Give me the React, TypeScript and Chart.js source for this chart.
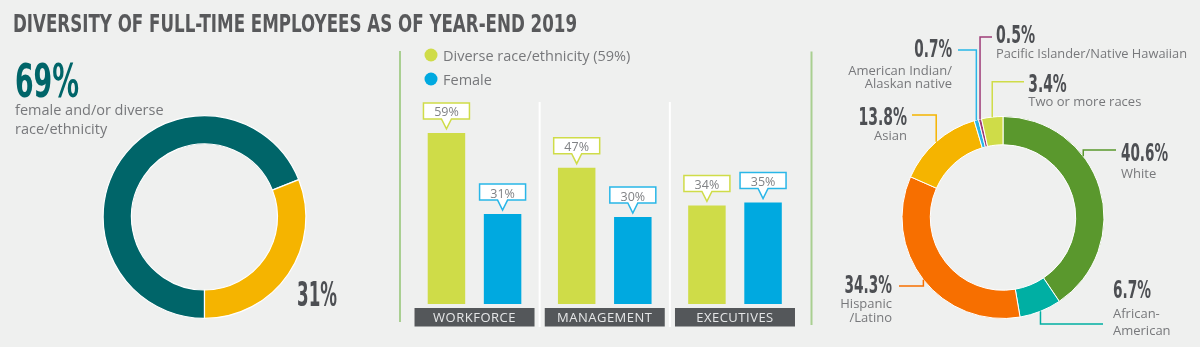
import React, { useEffect, useRef } from "react";
import { Chart, registerables } from "chart.js";

Chart.register(...registerables);

// ---------------- data ----------------
const titleText = "DIVERSITY OF FULL-TIME EMPLOYEES AS OF YEAR-END 2019";

const overallLabels = ["Female and/or diverse race/ethnicity", "Other"];
const overallValues = [69, 31];
const overallCaption = ["female and/or diverse", "race/ethnicity"];

const barCategories = ["WORKFORCE", "MANAGEMENT", "EXECUTIVES"];
const seriesNames = ["Diverse race/ethnicity (59%)", "Female"];
const diverseValues = [59, 47, 34];
const femaleValues = [31, 30, 35];

const raceLabels = [
  "White",
  "African-American",
  "Hispanic/Latino",
  "Asian",
  "American Indian/Alaskan native",
  "Pacific Islander/Native Hawaiian",
  "Two or more races",
];
const raceTextLines = [
  ["White"],
  ["African-", "American"],
  ["Hispanic", "/Latino"],
  ["Asian"],
  ["American Indian/", "Alaskan native"],
  ["Pacific Islander/Native Hawaiian"],
  ["Two or more races"],
];
const raceValues = [40.6, 6.7, 34.3, 13.8, 0.7, 0.5, 3.4];

// ---------------- styles / layout ----------------
const W = 1200;
const H = 347;
const BG = "#eff0ef";
const TEAL = "#006569";
const YELLOW = "#f5b400";
const BAR_GREEN = "#cfdc48";
const BAR_BLUE = "#00a9e0";
const CALLOUT_BLUE = "#29b6e8";
const DARK = "#4d4f53";
const GREY_TEXT = "#77787b";
const RULE_GREEN = "#a9cf91";
const raceColors = ["#5a982d", "#00afa3", "#f76f00", "#f5b400", "#29b6e8", "#9e3d78", "#cfdc48"];

const COND = '"Liberation Sans Narrow", "DejaVu Sans Condensed", "Roboto", sans-serif';
const SANS = '"Open Sans", "Noto Sans", sans-serif';

type RaceLayout = {
  frac: number;
  elbowY: number;
  endX: number;
  numX: number;
  numY: number;
  numW: number;
  align: "left" | "right";
  textY: number[];
};
const raceLayout: RaceLayout[] = [
  { frac: 0.36, elbowY: 150, endX: 1116, numX: 1121, numY: 161, numW: 47, align: "left", textY: [178] },
  { frac: 0.5, elbowY: 324, endX: 1103, numX: 1113, numY: 298, numW: 38, align: "left", textY: [318, 335] },
  { frac: 0.5, elbowY: 286, endX: 899, numX: 892, numY: 292.5, numW: 47.5, align: "right", textY: [308, 322] },
  { frac: 0.5, elbowY: 115, endX: 912, numX: 907, numY: 125, numW: 48.5, align: "right", textY: [139.5] },
  { frac: 0.5, elbowY: 50, endX: 958, numX: 952, numY: 57.3, numW: 37.7, align: "right", textY: [74.5, 88] },
  { frac: 0.5, elbowY: 37, endX: 992, numX: 996, numY: 43.3, numW: 39, align: "left", textY: [57.5] },
  { frac: 0.5, elbowY: 81.7, endX: 1024, numX: 1028.3, numY: 91.7, numW: 38.4, align: "left", textY: [106] },
];

function fitText(
  ctx: CanvasRenderingContext2D,
  text: string,
  x: number,
  y: number,
  width: number,
  align: "left" | "right" = "left"
) {
  const w = ctx.measureText(text).width || 1;
  const s = width / w;
  ctx.save();
  ctx.textAlign = "left";
  ctx.textBaseline = "alphabetic";
  const left = align === "right" ? x - width : x;
  ctx.translate(left, y);
  ctx.scale(s, 1);
  ctx.fillText(text, 0, 0);
  ctx.restore();
}

const pct = (v: number) => (Number.isInteger(v) ? `${v}%` : `${v.toFixed(1)}%`);

// ---------------- plugins ----------------
const backgroundPlugin = {
  id: "pageBackground",
  beforeDraw(chart: any) {
    const ctx: CanvasRenderingContext2D = chart.ctx;
    ctx.save();
    ctx.fillStyle = BG;
    ctx.fillRect(0, 0, W, H);

    // title
    ctx.fillStyle = "#58595b";
    ctx.font = `bold 25px ${COND}`;
    fitText(ctx, titleText, 13, 32, 564);

    // left big number + caption
    ctx.fillStyle = TEAL;
    ctx.font = `bold 47px ${COND}`;
    fitText(ctx, pct(overallValues[0]), 15, 97, 64);
    ctx.fillStyle = GREY_TEXT;
    ctx.font = `14.5px ${SANS}`;
    ctx.textAlign = "left";
    ctx.textBaseline = "alphabetic";
    ctx.fillText(overallCaption[0], 15, 115);
    ctx.fillText(overallCaption[1], 15, 134);
    ctx.fillStyle = DARK;
    ctx.font = `bold 33px ${COND}`;
    fitText(ctx, pct(overallValues[1]), 297, 306, 40);

    // green dividers
    ctx.strokeStyle = RULE_GREEN;
    ctx.lineWidth = 2;
    ctx.beginPath();
    ctx.moveTo(400, 51);
    ctx.lineTo(400, 322);
    ctx.moveTo(811.5, 51.5);
    ctx.lineTo(811.5, 325);
    ctx.stroke();

    // white separators between categories
    const xs = chart.scales.x;
    ctx.strokeStyle = "#ffffff";
    ctx.lineWidth = 2;
    for (let i = 0; i < barCategories.length - 1; i++) {
      const bx = (xs.getPixelForValue(i) + xs.getPixelForValue(i + 1)) / 2;
      ctx.beginPath();
      ctx.moveTo(bx, 102);
      ctx.lineTo(bx, 327);
      ctx.stroke();
    }

    // legend
    const ds = chart.data.datasets;
    const legendY = [55, 79];
    ds.forEach((d: any, i: number) => {
      ctx.fillStyle = d.backgroundColor;
      ctx.beginPath();
      ctx.arc(431, legendY[i], 6.5, 0, Math.PI * 2);
      ctx.fill();
      ctx.fillStyle = GREY_TEXT;
      ctx.font = `14.5px ${SANS}`;
      ctx.textAlign = "left";
      ctx.textBaseline = "middle";
      ctx.fillText(seriesNames[i], 443, legendY[i] + 1.5);
    });
    ctx.restore();
  },
  afterDatasetsDraw(chart: any) {
    const ctx: CanvasRenderingContext2D = chart.ctx;
    ctx.save();
    const borderColors = [BAR_GREEN, CALLOUT_BLUE];
    chart.data.datasets.forEach((d: any, di: number) => {
      const meta = chart.getDatasetMeta(di);
      meta.data.forEach((bar: any, i: number) => {
        const x = bar.x;
        const top = bar.y;
        const bw = 46;
        const bh = 16;
        const b = top - 14;
        const t = b - bh;
        const l = x - bw / 2;
        const r = x + bw / 2;
        const tip = top - 4;
        ctx.beginPath();
        ctx.moveTo(l, t);
        ctx.lineTo(r, t);
        ctx.lineTo(r, b);
        ctx.lineTo(x + 5, b);
        ctx.lineTo(x, tip);
        ctx.lineTo(x - 5, b);
        ctx.lineTo(l, b);
        ctx.closePath();
        ctx.fillStyle = "#ffffff";
        ctx.fill();
        ctx.strokeStyle = borderColors[di];
        ctx.lineWidth = 1.5;
        ctx.stroke();
        ctx.fillStyle = "#808285";
        ctx.font = `12.5px ${SANS}`;
        ctx.textAlign = "center";
        ctx.textBaseline = "alphabetic";
        ctx.fillText(pct(d.data[i]), x, b - 2.5);
      });
    });

    // category boxes
    const xs = chart.scales.x;
    barCategories.forEach((c, i) => {
      const cx = xs.getPixelForValue(i);
      ctx.fillStyle = "#54575a";
      ctx.fillRect(cx - 60, 308, 120, 18.5);
      ctx.fillStyle = "#e6e7e8";
      ctx.font = `13px ${SANS}`;
      (ctx as any).letterSpacing = "0.5px";
      ctx.textAlign = "center";
      ctx.textBaseline = "alphabetic";
      ctx.fillText(c, cx, 322.3, 110);
      (ctx as any).letterSpacing = "0px";
    });
    ctx.restore();
  },
};

const raceLabelPlugin = {
  id: "raceLabels",
  afterDraw(chart: any) {
    const ctx: CanvasRenderingContext2D = chart.ctx;
    const meta = chart.getDatasetMeta(0);
    ctx.save();
    meta.data.forEach((arc: any, i: number) => {
      const L = raceLayout[i];
      const a = arc.startAngle + L.frac * (arc.endAngle - arc.startAngle);
      const R = arc.outerRadius;
      const ax = arc.x + R * Math.cos(a);
      const ay = arc.y + R * Math.sin(a);
      ctx.strokeStyle = raceColors[i];
      ctx.lineWidth = 1.5;
      ctx.beginPath();
      ctx.moveTo(ax, ay);
      ctx.lineTo(ax, L.elbowY);
      ctx.lineTo(L.endX, L.elbowY);
      ctx.stroke();

      ctx.fillStyle = DARK;
      ctx.font = `bold 24px ${COND}`;
      fitText(ctx, pct(raceValues[i]), L.numX, L.numY, L.numW, L.align);

      ctx.fillStyle = GREY_TEXT;
      ctx.font = `13px ${SANS}`;
      ctx.textAlign = L.align;
      ctx.textBaseline = "alphabetic";
      raceTextLines[i].forEach((line, k) => {
        ctx.fillText(line, L.numX, L.textY[k], i === 5 ? 191 : undefined as any);
      });
    });
    ctx.restore();
  },
};

// ---------------- component ----------------
export default function App() {
  const barRef = useRef<HTMLCanvasElement>(null);
  const leftRef = useRef<HTMLCanvasElement>(null);
  const rightRef = useRef<HTMLCanvasElement>(null);

  useEffect(() => {
    const charts: Chart[] = [];
    if (barRef.current) {
      charts.push(
        new Chart(barRef.current, {
          type: "bar",
          data: {
            labels: barCategories,
            datasets: [
              {
                label: seriesNames[0],
                data: diverseValues,
                backgroundColor: BAR_GREEN,
                categoryPercentage: 0.862,
                barPercentage: 0.668,
              },
              {
                label: seriesNames[1],
                data: femaleValues,
                backgroundColor: BAR_BLUE,
                categoryPercentage: 0.862,
                barPercentage: 0.668,
              },
            ],
          },
          options: {
            responsive: false,
            animation: false,
            devicePixelRatio: 1,
            events: [],
            layout: { padding: { left: 409.4, right: 399.9, top: 14, bottom: 43 } },
            plugins: { legend: { display: false }, tooltip: { enabled: false } },
            scales: {
              x: { display: false, grid: { display: false } },
              y: { display: false, min: 0, max: 100, grid: { display: false } },
            },
          },
          plugins: [backgroundPlugin],
        } as any)
      );
    }
    if (leftRef.current) {
      charts.push(
        new Chart(leftRef.current, {
          type: "doughnut",
          data: {
            labels: overallLabels,
            datasets: [
              {
                data: overallValues,
                backgroundColor: [TEAL, YELLOW],
                borderColor: "#ffffff",
                borderWidth: 1.2,
              },
            ],
          },
          options: {
            responsive: false,
            animation: false,
            devicePixelRatio: 1,
            events: [],
            cutout: "72%",
            rotation: 180,
            layout: { padding: { left: 102.5, right: 893.5, top: 115, bottom: 28 } },
            plugins: { legend: { display: false }, tooltip: { enabled: false } },
          },
        } as any)
      );
    }
    if (rightRef.current) {
      charts.push(
        new Chart(rightRef.current, {
          type: "doughnut",
          data: {
            labels: raceLabels,
            datasets: [
              {
                data: raceValues,
                backgroundColor: raceColors,
                borderColor: "#ffffff",
                borderWidth: 1,
              },
            ],
          },
          options: {
            responsive: false,
            animation: false,
            devicePixelRatio: 1,
            events: [],
            cutout: "72%",
            rotation: 0,
            layout: { padding: { left: 901.5, right: 95.5, top: 116, bottom: 28 } },
            plugins: { legend: { display: false }, tooltip: { enabled: false } },
          },
          plugins: [raceLabelPlugin],
        } as any)
      );
    }
    return () => charts.forEach((c) => c.destroy());
  }, []);

  const cs: React.CSSProperties = { position: "absolute", left: 0, top: 0, width: W, height: H };
  return (
    <div
      style={{
        position: "fixed",
        left: 0,
        top: 0,
        width: W,
        height: H,
        background: BG,
        overflow: "hidden",
      }}
    >
      <canvas ref={barRef} width={W} height={H} style={cs} />
      <canvas ref={leftRef} width={W} height={H} style={cs} />
      <canvas ref={rightRef} width={W} height={H} style={cs} />
    </div>
  );
}
